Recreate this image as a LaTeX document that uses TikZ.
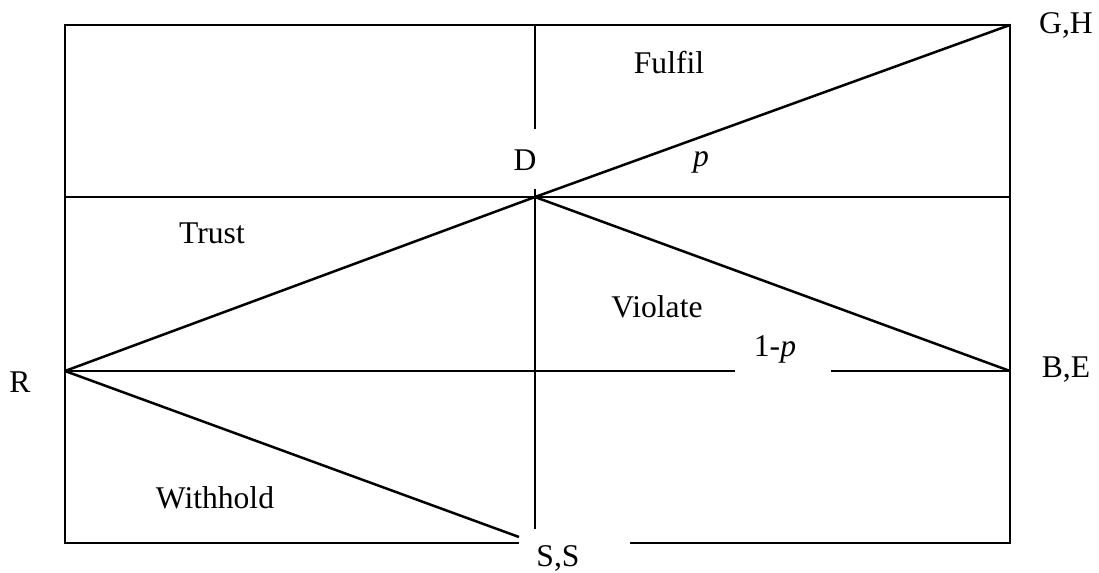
\documentclass[tikz,border=0pt]{standalone}
\usepackage{fontspec}
\setmainfont{Liberation Serif}
\usepackage{tikz}
\usetikzlibrary{positioning}

\begin{document}
\begin{tikzpicture}[x=0.5pt, y=-0.5pt, line width=1.25pt, every node/.style={inner sep=0pt, anchor=base, font=\fontsize{15.8}{18}\selectfont}]
\useasboundingbox (0,0) rectangle (1099,573);
% corners and game points
\coordinate (tl) at (65,25);
\coordinate (gh) at (1010,25);
\coordinate (bl) at (65,543);
\coordinate (br) at (1010,543);
\coordinate (r) at (65,371);
\coordinate (d) at (535,197);
\coordinate (be) at (1010,371);
\coordinate (ml) at (65,197);
\coordinate (mr) at (1010,197);
% ends of the cut lines
\coordinate (vt) at (535,25);
\coordinate (vta) at (535,129);
\coordinate (vtb) at (535,189);
\coordinate (vb) at (535,529);
\coordinate (pa) at (735,371);
\coordinate (pb) at (831,371);
\coordinate (sa) at (519,543);
\coordinate (sb) at (630,543);
\coordinate (wh) at (519,537);
% frame and grid
\draw (sa) -- (bl) -- (tl) -- (gh) -- (br) -- (sb);
\draw (ml) -- (mr);
\draw (r) -- (pa);
\draw (pb) -- (be);
\draw (vt) -- (vta);
\draw (vtb) -- (vb);
% moves
\draw (r) -- (d) -- (gh);
\draw (d) -- (be);
\draw (r) -- (wh);
% labels
\node (fulfil) at (669,73) {Fulfil};
\node (prob) at (701,166) {\itshape p};
\node (dlab) at (525,170) {D};
\node (trust) at (212,243) {Trust};
\node (violate) at (657,317) {Violate};
\node (onep) at (775,356) {1-\itshape p};
\node (withhold) at (215,508) {Withhold};
\node (rlab) at (20,392) {R};
\node (ghlab) at (1066,33) {G,H};
\node (belab) at (1066,377) {B,E};
\node (sslab) at (558,566) {S,S};
\end{tikzpicture}
\end{document}
